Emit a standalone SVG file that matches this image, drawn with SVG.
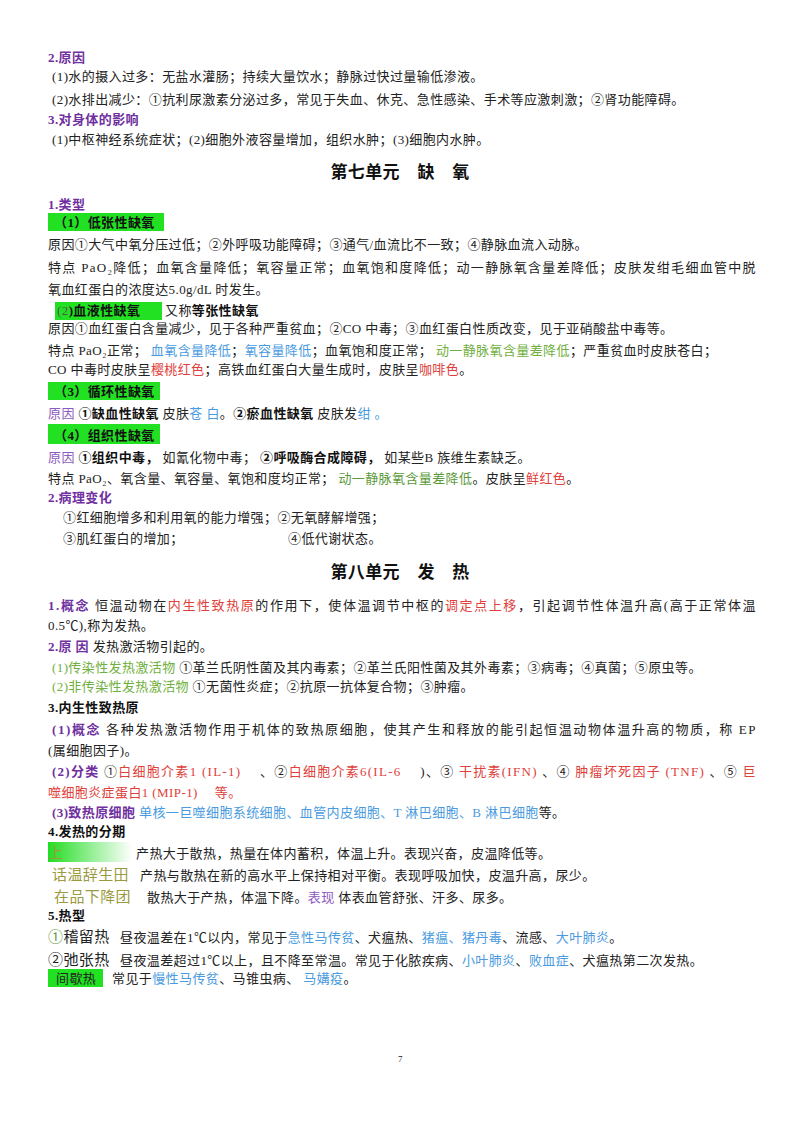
<svg xmlns="http://www.w3.org/2000/svg" width="800" height="1131" viewBox="0 0 800 1131">
<style>
text{font-family:"Liberation Serif","Noto Sans CJK SC",serif;font-size:13px;fill:#222;letter-spacing:0.4px}
.h{fill:#7030a0;font-weight:bold}
.b{font-weight:bold;fill:#111}
.t{font-size:17px;font-weight:bold;fill:#111}
.bl{fill:#4a9be0}.gr{fill:#70b040}.gd{fill:#5a9a3a}.rd{fill:#e0403a}.pu{fill:#8e5cc0}.ol{fill:#9a9a40;font-size:15px}
.g{fill:#22e022}
</style>
<defs><linearGradient id="gw" x1="0" x2="1"><stop offset="0" stop-color="#22dd22"/><stop offset="1" stop-color="#fff"/></linearGradient></defs>
<rect width="800" height="1131" fill="#fff"/>
<g id="sec-top">
<text x="48" y="62" class="h">2.原因</text>
<text x="52" y="81">(1)水的摄入过多：无盐水灌肠；持续大量饮水；静脉过快过量输低渗液。</text>
<text x="52" y="104">(2)水排出减少：①抗利尿激素分泌过多，常见于失血、休克、急性感染、手术等应激刺激；②肾功能障碍。</text>
<text x="48" y="124" class="h">3.对身体的影响</text>
<text x="52" y="144">(1)中枢神经系统症状；(2)细胞外液容量增加，组织水肿；(3)细胞内水肿。</text>
</g>
<g id="unit7">
<text x="400" y="178" class="t" text-anchor="middle">第七单元　缺　氧</text>
<text x="48" y="209" class="h">1.类型</text>
<rect x="48" y="213" width="116" height="18" class="g"/>
<text x="54" y="227" class="b">（1）低张性缺氧</text>
<text x="48" y="249">原因①大气中氧分压过低；②外呼吸功能障碍；③通气/血流比不一致；④静脉血流入动脉。</text>
<text x="48" y="272" textLength="708">特点 PaO₂降低；血氧含量降低；氧容量正常；血氧饱和度降低；动一静脉氧含量差降低；皮肤发绀毛细血管中脱</text>
<text x="48" y="294">氧血红蛋白的浓度达5.0g/dL 时发生。</text>
<rect x="55" y="302" width="107" height="18" class="g"/>
<text x="57" y="315" class="b"><tspan style="font-weight:normal" fill="#555">(2</tspan>)血液性缺氧</text>
<text x="165" y="315"><tspan>又称</tspan><tspan class="b">等张性缺氧</tspan></text>
<text x="48" y="333">原因①血红蛋白含量减少，见于各种严重贫血；②CO 中毒；③血红蛋白性质改变，见于亚硝酸盐中毒等。</text>
<text x="48" y="355">特点 PaO₂正常； <tspan class="bl">血氧含量降低</tspan>；<tspan class="bl">氧容量降低</tspan>；血氧饱和度正常； <tspan class="gr">动一静脉氧含量差降低</tspan>；严重贫血时皮肤苍白；</text>
<text x="48" y="374">CO 中毒时皮肤呈<tspan class="rd">樱桃红色</tspan>；高铁血红蛋白大量生成时，皮肤呈<tspan class="rd">咖啡色</tspan>。</text>
<rect x="48" y="382" width="112" height="18" class="g"/>
<text x="54" y="396" class="b">（3）循环性缺氧</text>
<text x="48" y="418"><tspan class="pu">原因</tspan> <tspan class="b">①缺血性缺氧</tspan> 皮肤<tspan class="bl">苍 白</tspan>。<tspan class="b">②瘀血性缺氧</tspan>  皮肤发<tspan class="bl">绀 。</tspan></text>
<rect x="48" y="424" width="112" height="20" class="g"/>
<text x="54" y="440" class="b">（4）组织性缺氧</text>
<text x="48" y="462"><tspan class="pu">原因</tspan> <tspan class="b">①组织中毒，</tspan> 如氰化物中毒； <tspan class="b">②呼吸酶合成障碍，</tspan> 如某些B 族维生素缺乏。</text>
<text x="48" y="483">特点 PaO₂、氧含量、氧容量、氧饱和度均正常； <tspan class="gd">动一静脉氧含量差降低</tspan>。皮肤呈<tspan class="rd">鲜红色</tspan>。</text>
<text x="48" y="502" class="h">2.病理变化</text>
<text x="63" y="522">①红细胞增多和利用氧的能力增强；②无氧酵解增强；</text>
<text x="63" y="543">③肌红蛋白的增加；</text>
<text x="288" y="543">④低代谢状态。</text>
</g>
<g id="unit8">
<text x="400" y="578" class="t" text-anchor="middle">第八单元　发　热</text>
<text x="48" y="610" textLength="708"><tspan class="h">1.概念</tspan> 恒温动物在<tspan class="rd">内生性致热原</tspan>的作用下，使体温调节中枢的<tspan class="rd">调定点上移</tspan>，引起调节性体温升高(高于正常体温</text>
<text x="48" y="630">0.5℃),称为发热。</text>
<text x="48" y="651"><tspan class="h">2.原 因</tspan> 发热激活物引起的。</text>
<text x="52" y="672"><tspan class="gr">(1)传染性发热激活物</tspan> ①革兰氏阴性菌及其内毒素；②革兰氏阳性菌及其外毒素；③病毒；④真菌；⑤原虫等。</text>
<text x="52" y="691"><tspan class="gr">(2)非传染性发热激活物</tspan> ①无菌性炎症；②抗原一抗体复合物；③肿瘤。</text>
<text x="48" y="712" class="b">3.内生性致热原</text>
<text x="52" y="734" textLength="704"><tspan class="h">(1)概念</tspan> 各种发热激活物作用于机体的致热原细胞，使其产生和释放的能引起恒温动物体温升高的物质，称 EP</text>
<text x="48" y="755">(属细胞因子)。</text>
<text x="52" y="776" textLength="704"><tspan class="h">(2)分类</tspan> ①<tspan class="rd">白细胞介素1 (IL-1)</tspan>　 、②<tspan class="rd">白细胞介素6(IL-6</tspan>　 )、③ <tspan class="rd">干扰素(IFN)</tspan> 、④ <tspan class="rd">肿瘤坏死因子 (TNF)</tspan> 、⑤ <tspan class="rd">巨</tspan></text>
<text x="48" y="797"><tspan class="rd">噬细胞炎症蛋白1 (MIP-1)</tspan>　 <tspan class="rd">等。</tspan></text>
<text x="52" y="817"><tspan class="h">(3)致热原细胞</tspan> <tspan class="bl">单核一巨噬细胞系统细胞、血管内皮细胞、T 淋巴细胞、B 淋巴细胞</tspan>等。</text>
<text x="48" y="836" class="b">4.发热的分期</text>
<rect x="48" y="842" width="84" height="20" fill="url(#gw)"/>
<text x="48" y="858" class="ol">上</text>
<text x="136" y="858">产热大于散热，热量在体内蓄积，体温上升。表现兴奋，皮温降低等。</text>
<text x="52" y="880" class="ol">话温辞生田</text>
<text x="140" y="880">产热与散热在新的高水平上保持相对平衡。表现呼吸加快，皮温升高，尿少。</text>
<text x="54" y="902" class="ol">在品下降团</text>
<text x="147" y="902">散热大于产热，体温下降。<tspan class="pu">表现</tspan> 体表血管舒张、汗多、尿多。</text>
<text x="48" y="920" class="b">5.热型</text>
<text x="48" y="942" style="font-size:15px"><tspan class="gd">①</tspan>稽留热</text>
<text x="120" y="942">昼夜温差在1℃以内，常见于<tspan class="bl">急性马传贫</tspan>、犬瘟热、<tspan class="bl">猪瘟、猪丹毒</tspan>、流感、<tspan class="bl">大叶肺炎</tspan>。</text>
<text x="48" y="965" style="font-size:15px">②弛张热</text>
<text x="120" y="965">昼夜温差超过1℃以上，且不降至常温。常见于化脓疾病、<tspan class="bl">小叶肺炎</tspan>、<tspan class="bl">败血症</tspan>、犬瘟热第二次发热。</text>
<rect x="48" y="969" width="55" height="18" class="g"/>
<text x="56" y="983">间歇热</text>
<text x="112" y="983">常见于<tspan class="bl">慢性马传贫</tspan>、马锥虫病、 <tspan class="bl">马媾疫</tspan>。</text>
</g>
<text x="398" y="1062" style="font-size:9px">7</text>
</svg>
